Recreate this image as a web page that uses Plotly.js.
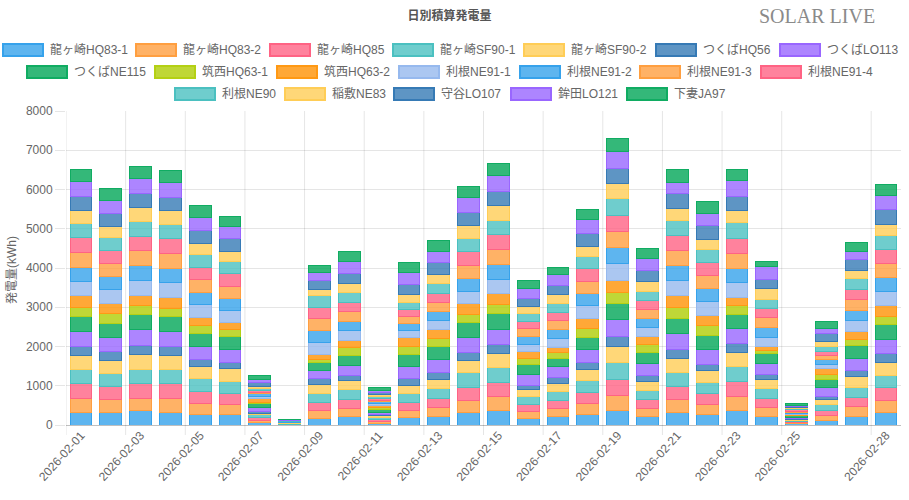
<!DOCTYPE html>
<html>
<head>
<meta charset="utf-8">
<script src="https://cdn.plot.ly/plotly-3.0.1.min.js"></script>
<style>
html,body{margin:0;padding:0;background:#fff;}
#chart{width:909px;height:500px;}
</style>
</head>
<body>
<div id="chart"></div>
<script>
const dates = ['2026-02-01','2026-02-02','2026-02-03','2026-02-04','2026-02-05','2026-02-06','2026-02-07',
  '2026-02-08','2026-02-09','2026-02-10','2026-02-11','2026-02-12','2026-02-13','2026-02-14',
  '2026-02-15','2026-02-16','2026-02-17','2026-02-18','2026-02-19','2026-02-20','2026-02-21',
  '2026-02-22','2026-02-23','2026-02-24','2026-02-25','2026-02-26','2026-02-27','2026-02-28'];
const tickDates = ['2026-02-01','2026-02-03','2026-02-05','2026-02-07','2026-02-09','2026-02-11','2026-02-13',
  '2026-02-15','2026-02-17','2026-02-19','2026-02-21','2026-02-23','2026-02-25','2026-02-28'];
const seriesNames = ['龍ヶ崎HQ83-1','龍ヶ崎HQ83-2','龍ヶ崎HQ85','龍ヶ崎SF90-1','龍ヶ崎SF90-2','つくばHQ56','つくばLO113',
  'つくばNE115','筑西HQ63-1','筑西HQ63-2','利根NE91-1','利根NE91-2','利根NE91-3','利根NE91-4',
  '利根NE90','稲敷NE83','守谷LO107','鉾田LO121','下妻JA97'];

const hq83_1 = [331,331,357,331,280,255,55,5,178,229,50,195,229,306,357,178,204,280,382,204,331,255,357,229,30,127,229,306];
const hq83_2 = [357,331,331,357,280,280,60,5,204,204,50,178,229,331,357,178,204,280,382,229,331,280,357,229,30,127,255,331];
const hq85   = [374,331,374,357,306,280,75,5,204,229,50,204,229,331,357,178,229,280,408,229,331,280,382,229,30,127,229,306];
const sf90_1 = [357,331,357,357,331,306,70,35,229,255,50,229,255,357,382,204,229,306,408,229,357,280,382,255,25,153,255,331];
const sf90_2 = [357,331,382,357,306,306,45,5,229,229,35,195,229,331,357,178,204,280,408,229,357,306,382,229,30,127,280,331];
const hq56   = [229,229,229,229,178,178,30,5,153,127,20,187,178,204,229,102,153,178,255,153,229,153,204,127,20,76,153,229];
const lo113  = [382,357,391,382,331,331,110,5,204,255,70,306,331,357,382,280,255,331,433,306,408,357,382,280,30,229,306,357];
const ne115  = [382,357,382,382,331,331,100,5,204,255,70,306,331,382,408,255,229,306,408,280,382,357,382,255,35,204,306,357];
const hq63_1 = [221,255,229,229,204,178,35,0,76,204,40,204,204,229,229,153,153,229,280,204,280,255,204,76,20,127,178,229];
const hq63_2 = [297,255,280,280,204,178,90,0,127,178,60,229,229,255,280,178,127,255,306,204,306,255,204,102,30,153,204,255];
const ne91_1 = [374,357,382,357,331,306,50,5,306,255,50,178,229,331,357,178,229,331,433,229,382,357,382,229,25,102,280,357];
const ne91_2 = [357,331,382,382,306,306,75,5,306,229,50,178,229,331,382,204,229,306,408,229,382,331,382,255,25,127,255,357];
const ne91_3 = [382,331,382,357,331,306,40,5,306,255,30,178,229,331,382,204,229,306,408,229,382,331,357,255,25,102,255,357];
const ne91_4 = [365,331,357,382,306,331,50,15,272,229,40,178,229,357,382,178,204,331,408,229,382,331,382,229,30,102,280,357];
const ne90   = [374,331,382,357,331,306,55,5,289,255,60,187,255,331,382,204,229,306,433,229,382,331,408,229,30,127,255,357];
const ne83   = [331,280,348,357,280,255,40,5,178,229,45,195,229,331,357,178,229,255,382,255,306,255,306,280,25,127,204,280];
const lo107  = [357,331,365,331,331,306,95,5,204,255,50,255,306,331,357,204,229,331,382,280,382,357,357,229,30,204,280,382];
const lo121  = [382,331,382,382,331,306,80,15,229,306,60,306,280,382,408,255,280,357,433,306,280,306,408,331,35,127,229,357];
const ja97   = [306,306,306,306,306,255,100,5,178,255,80,255,272,280,306,204,178,255,331,255,331,306,280,127,38,178,229,280];

const seriesValues = [hq83_1,hq83_2,hq85,sf90_1,sf90_2,hq56,lo113,ne115,hq63_1,hq63_2,
  ne91_1,ne91_2,ne91_3,ne91_4,ne90,ne83,lo107,lo121,ja97];

// ---- styling ----
const palette = [
  ['rgba(54,162,235,0.8)','rgb(54,162,235)'],
  ['rgba(255,159,64,0.8)','rgb(255,159,64)'],
  ['rgba(255,99,132,0.8)','rgb(255,99,132)'],
  ['rgba(75,192,192,0.8)','rgb(75,192,192)'],
  ['rgba(255,205,86,0.8)','rgb(255,205,86)'],
  ['rgba(54,122,181,0.8)','rgb(54,122,181)'],
  ['rgba(153,102,255,0.8)','rgb(153,102,255)'],
  ['rgba(16,172,98,0.85)','rgb(16,172,98)'],
  ['rgba(180,208,20,0.85)','rgb(180,208,20)'],
  ['rgba(255,153,20,0.85)','rgb(255,153,20)'],
  ['rgba(150,185,238,0.8)','rgb(150,185,238)']
];
const FONT = 'Liberation Sans, Arial, Noto Sans CJK JP, sans-serif';
const M = {l:66, r:8, t:111, b:75};
const W = 909, H = 500;
const PW = W - M.l - M.r, PH = H - M.t - M.b;
const px = x => (x - M.l) / PW;
const py = y => (H - M.b - y) / PH;

const traces = seriesNames.map((name, i) => ({
  type: 'bar',
  name: name,
  x: dates,
  y: seriesValues[i],
  marker: {color: palette[i % palette.length][0], line: {color: palette[i % palette.length][1], width: 1}},
  showlegend: false,
  hoverinfo: 'skip'
}));

// legend layout (Chart.js style rows)
const legendRows = [[0,1,2,3,4,5,6],[7,8,9,10,11,12,13],[14,15,16,17,18]];
const legendRowX = [[2,135,269,392,523,655,779],[26,154,276,398,519,639,760],[174,284,393,510,626]];
const legendRowY = [50,72,94];

const shapes = [];
const annotations = [];
legendRows.forEach((row, r) => {
  row.forEach((si, k) => {
    const bx = legendRowX[r][k], cy = legendRowY[r];
    const col = palette[si % palette.length];
    shapes.push({type:'rect', xref:'paper', yref:'paper', x0:px(bx+1), x1:px(bx+41), y0:py(cy+6), y1:py(cy-6),
      fillcolor: col[0], line:{color: col[1], width: 2}, layer:'above'});
    annotations.push({xref:'paper', yref:'paper', x:px(bx+46), y:py(cy), xanchor:'left', yanchor:'middle',
      text: seriesNames[si], showarrow:false, font:{family:FONT, size:12, color:'#666'}});
  });
});

// vertical grid lines at left boundary of each labelled category
tickDates.forEach(d => {
  const idx = dates.indexOf(d);
  shapes.push({type:'line', xref:'x', yref:'paper', x0: idx - 0.5, x1: idx - 0.5, y0: -10/PH, y1: 1,
    line:{color:'rgba(0,0,0,0.1)', width:1}, layer:'below'});
});

annotations.push({xref:'paper', yref:'paper', x:px(757), y:py(16), xanchor:'left', yanchor:'middle',
  text:'SOLAR LIVE', showarrow:false, font:{family:'Liberation Serif, Times New Roman, serif', size:20, color:'#8a8a8a'}});
annotations.push({xref:'paper', yref:'paper', x:px(12), y:py(270), xanchor:'center', yanchor:'middle', textangle:-90,
  text:'発電量(kWh)', showarrow:false, font:{family:FONT, size:12, color:'#666'}});

const layout = {
  width: W, height: H,
  margin: M,
  paper_bgcolor:'#fff', plot_bgcolor:'#fff',
  barmode:'stack', bargap:0.27,
  title:{text:'日別積算発電量', xref:'container', x:449.5/W, xanchor:'center', y:1-16/H, yanchor:'middle',
    font:{family:FONT, size:12, color:'#555', weight:'bold'}},
  xaxis:{type:'category', tickvals: tickDates, ticktext: tickDates, tickangle:-48, showgrid:false,
    ticks:'', zeroline:false, showline:false, tickfont:{family:FONT, size:12, color:'#666'},
    range:[-0.5, dates.length - 0.5], automargin:false},
  yaxis:{range:[0,8000], dtick:1000, tick0:0, gridcolor:'rgba(0,0,0,0.1)', gridwidth:1,
    ticks:'outside', ticklen:10, tickcolor:'rgba(0,0,0,0.1)', zeroline:true, zerolinecolor:'rgba(0,0,0,0.25)',
    zerolinewidth:1, showline:false, tickfont:{family:FONT, size:12, color:'#666'}, automargin:false},
  shapes: shapes,
  annotations: annotations,
  showlegend:false
};

Plotly.newPlot('chart', traces, layout, {staticPlot:true, displayModeBar:false});
</script>
</body>
</html>
